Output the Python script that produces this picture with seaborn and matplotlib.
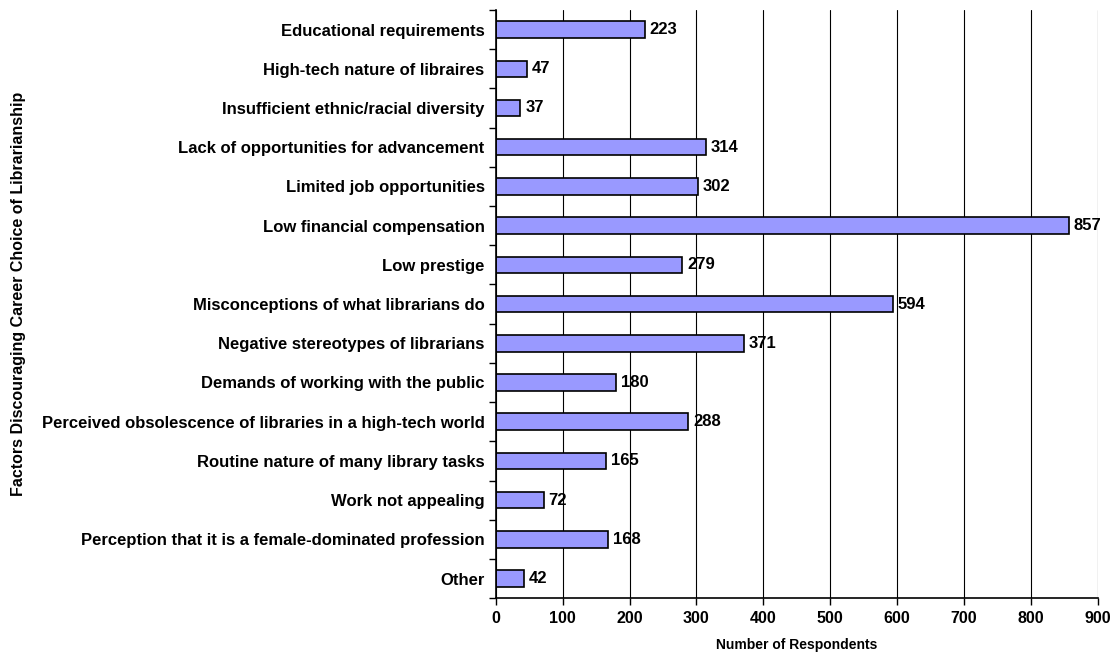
import pandas as pd
import seaborn as sns
import matplotlib.pyplot as plt

factors = [
    "Educational requirements",
    "High-tech nature of libraires",
    "Insufficient ethnic/racial diversity",
    "Lack of opportunities for advancement",
    "Limited job opportunities",
    "Low financial compensation",
    "Low prestige",
    "Misconceptions of what librarians do",
    "Negative stereotypes of librarians",
    "Demands of working with the public",
    "Perceived obsolescence of libraries in a high-tech world",
    "Routine nature of many library tasks",
    "Work not appealing",
    "Perception that it is a female-dominated profession",
    "Other",
]
respondents = [223, 47, 37, 314, 302, 857, 279, 594, 371, 180, 288, 165, 72, 168, 42]

df = pd.DataFrame({"factor": factors, "n": respondents})

sns.set_style("white")
plt.rcParams['font.family'] = ['Liberation Sans', 'DejaVu Sans']
plt.rcParams['font.weight'] = 'bold'
for k in ['text.color', 'axes.labelcolor', 'xtick.color', 'ytick.color']:
    plt.rcParams[k] = 'black'

fig = plt.figure(figsize=(11.14, 6.61), dpi=100)
ax = fig.add_axes([0.445, 0.095, 0.5405, 0.89])

sns.barplot(data=df, x="n", y="factor", orient="h", color="#9999FF",
            saturation=1, edgecolor="black", linewidth=1.2, width=0.42, ax=ax)

for i, v in enumerate(respondents):
    ax.text(v + 7, i, str(v), va="center", ha="left", fontsize=12, fontweight="bold")

ax.set_xlim(0, 900)
ax.set_ylim(len(factors) - 0.5, -0.5)
ax.set_xticks(range(0, 901, 100))
ax.xaxis.grid(True, color="black", linewidth=0.8)
ax.set_axisbelow(True)

# y ticks sit between categories, labels at category centres
ax.set_yticks([i + 0.5 for i in range(-1, len(factors))], minor=False)
ax.set_yticklabels([])
ax.set_yticks(range(len(factors)), minor=True)
ax.set_yticklabels(factors, minor=True, fontsize=12, fontweight="bold")
ax.tick_params(axis="y", which="minor", left=False, length=0, pad=8)
ax.tick_params(axis="y", which="major", left=True, length=5, width=1, direction="out")
ax.tick_params(axis="x", bottom=True, length=5, width=1, direction="out", labelsize=11.5, pad=4)

for s in ["top", "right"]:
    ax.spines[s].set_visible(False)
for s in ["left", "bottom"]:
    ax.spines[s].set_color("black")
    ax.spines[s].set_linewidth(1.2)

ax.set_xlabel("Number of Respondents", fontsize=10, fontweight="bold", labelpad=9)
ax.set_ylabel("")
fig.text(0.017, 0.555, "Factors Discouraging Career Choice of Librarianship", rotation=90,
         va="center", ha="center", fontsize=11.5, fontweight="bold")

fig.savefig("out.png", dpi=100)
